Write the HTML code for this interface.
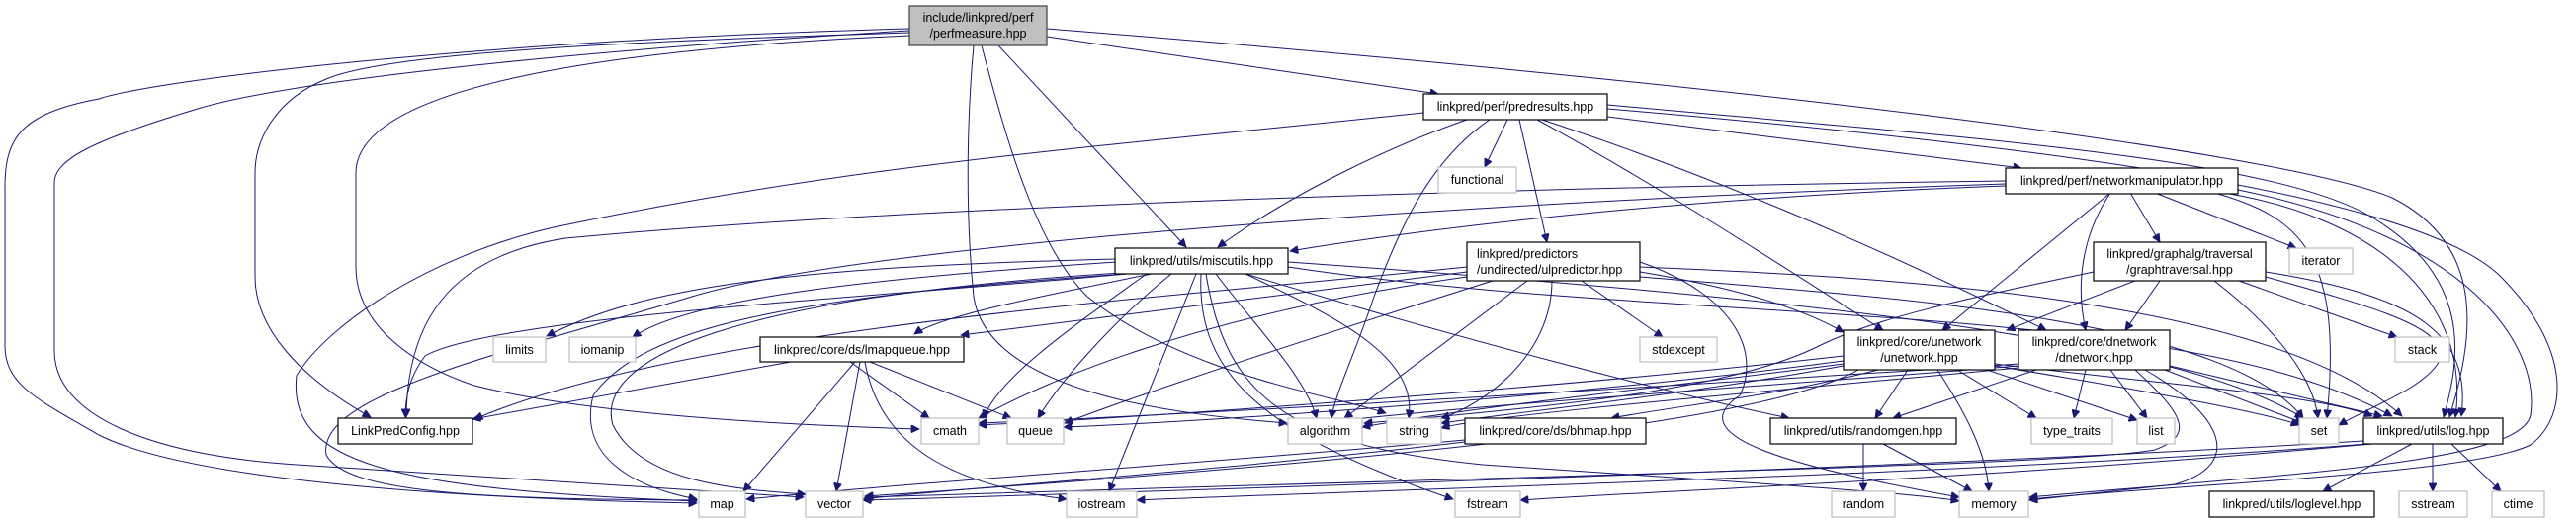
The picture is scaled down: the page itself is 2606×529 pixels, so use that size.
<!DOCTYPE html>
<html><head><meta charset="utf-8"><style>
html,body{margin:0;padding:0;background:#fff;}
svg{display:block;}
text{font-family:"Liberation Sans",sans-serif;font-size:12.5px;fill:#000;}
.e{fill:none;stroke:#191970;stroke-width:1;}
.p{fill:#fff;stroke:#000;stroke-width:1.2;}
.s{fill:#fff;stroke:#bfbfbf;stroke-width:1.2;}
</style></head><body>
<svg width="2606" height="529" viewBox="0 0 2606 529" xmlns="http://www.w3.org/2000/svg">
<defs><marker id="a" viewBox="0 0 10 10" refX="10" refY="5" markerWidth="10" markerHeight="8" markerUnits="userSpaceOnUse" orient="auto"><path d="M0,0 L10,5 L0,10 z" fill="#191970" stroke="#191970"/></marker></defs>
<g marker-end="url(#a)">
<!-- main -->
<path class="e" d="M920,29 C500,40 160,80 100,100 C20,115 5,140 5,190 L5,350 C5,390 40,405 100,440 C200,490 500,505 705,509"/>
<path class="e" d="M920,31 C600,50 300,80 200,110 C100,140 55,160 55,185 L55,355 C55,420 150,460 300,470 L813,503"/>
<path class="e" d="M920,33 C700,40 400,50 330,80 C280,100 258,140 258,175 L258,280 C258,330 300,380 375,422"/>
<path class="e" d="M920,36 C600,50 360,90 360,175 L360,270 C360,330 420,370 480,390 C600,420 800,430 930,434"/>
<path class="e" d="M985,46 C980,100 975,200 985,300 C1000,400 1200,420 1302,428"/>
<path class="e" d="M993,46 C1020,150 1050,250 1100,300 C1200,380 1350,400 1402,418"/>
<path class="e" d="M1010,46 L1200,250"/>
<path class="e" d="M1059,37 L1455,95"/>
<path class="e" d="M1059,29 C1700,80 2300,150 2420,200 C2520,250 2500,350 2478,422"/>
<!-- predresults -->
<path class="e" d="M1626,110 C2100,150 2450,200 2530,280 C2600,350 2600,420 2560,450 C2500,480 2200,490 2053,505"/>
<path class="e" d="M1626,118 L2045,170"/>
<path class="e" d="M1626,106 C2000,140 2300,160 2400,220 C2500,280 2490,360 2472,422"/>
<path class="e" d="M1484,121 C1400,150 1300,200 1232,250"/>
<path class="e" d="M1525,121 L1502,169"/>
<path class="e" d="M1507,121 C1450,160 1420,220 1390,300 C1370,360 1350,400 1347,423"/>
<path class="e" d="M1537,121 L1565,245"/>
<path class="e" d="M1555,121 C1700,200 1850,300 1905,334"/>
<path class="e" d="M1560,121 C1800,200 2000,300 2070,334"/>
<path class="e" d="M1440,114 C1100,150 870,165 560,230 C430,260 330,330 300,380 C290,470 400,495 705,507"/>
<!-- networkmanipulator -->
<path class="e" d="M2029,188 C1700,200 1450,230 1305,254"/>
<path class="e" d="M2029,183 C1500,190 900,210 572,241 C450,260 412,330 411,422"/>
<path class="e" d="M2029,186 C1600,200 900,240 700,300 C500,360 320,400 330,460 C350,500 500,505 705,506"/>
<path class="e" d="M2135,195 L1965,334"/>
<path class="e" d="M2135,195 C2105,240 2100,290 2110,334"/>
<path class="e" d="M2155,195 L2185,245"/>
<path class="e" d="M2180,195 L2323,251"/>
<path class="e" d="M2240,195 C2330,220 2370,260 2354,423"/>
<path class="e" d="M2250,195 C2400,220 2500,300 2484,422"/>
<path class="e" d="M2264,192 C2500,240 2570,350 2560,420 C2550,470 2300,480 2053,503"/>
<!-- miscutils -->
<path class="e" d="M1130,262 C800,270 650,290 553,340"/>
<path class="e" d="M1130,265 C900,280 700,300 640,341"/>
<path class="e" d="M1165,277 C1050,300 950,320 925,338"/>
<path class="e" d="M1140,277 C900,300 500,320 430,360 C415,380 410,400 410,422"/>
<path class="e" d="M1160,277 C1100,320 1010,380 995,423"/>
<path class="e" d="M1185,277 C1120,330 1070,390 1050,423"/>
<path class="e" d="M1230,277 C1270,330 1320,380 1332,423"/>
<path class="e" d="M1260,277 C1350,320 1435,360 1425,423"/>
<path class="e" d="M1210,277 L1122,497"/>
<path class="e" d="M1215,277 C1210,380 1280,440 1470,505"/>
<path class="e" d="M1220,277 C1240,400 1300,450 1500,470 C1800,490 1950,500 1982,507"/>
<path class="e" d="M1140,277 C800,300 650,330 600,400 C580,480 680,500 705,505"/>
<path class="e" d="M1135,276 C750,300 600,360 620,430 C650,490 750,495 815,500"/>
<path class="e" d="M1303,265 C1800,300 2200,340 2330,423"/>
<path class="e" d="M1303,270 C1700,330 2200,300 2420,421"/>
<path class="e" d="M1260,277 C1500,350 1700,400 1810,423"/>
<!-- ulpredictor -->
<path class="e" d="M1484,275 L972,339"/>
<path class="e" d="M1484,270 C1200,300 700,330 480,424"/>
<path class="e" d="M1600,284 L1682,341"/>
<path class="e" d="M1545,284 L1360,423"/>
<path class="e" d="M1570,284 C1570,360 1500,410 1458,423"/>
<path class="e" d="M1510,284 C1300,350 1150,400 1077,428"/>
<path class="e" d="M1659,275 C1750,290 1820,310 1865,336"/>
<path class="e" d="M1659,265 C1760,300 1780,360 1760,400 C1700,440 1800,470 1982,503"/>
<path class="e" d="M1659,280 C1900,300 2250,320 2330,423"/>
<path class="e" d="M1659,270 C1900,280 2300,300 2430,421"/>
<path class="e" d="M1484,280 C1200,320 1050,390 990,423"/>
<!-- graphtraversal -->
<path class="e" d="M2160,284 L2030,334"/>
<path class="e" d="M2185,284 L2150,334"/>
<path class="e" d="M2118,275 C2000,300 1900,320 1840,350 C1760,390 1600,410 1380,428"/>
<path class="e" d="M2240,284 C2300,330 2340,380 2345,423"/>
<path class="e" d="M2265,284 L2425,341"/>
<path class="e" d="M2292,280 C2400,310 2470,330 2470,360 C2460,390 2400,410 2366,430"/>
<path class="e" d="M2292,275 C2450,300 2500,340 2490,421"/>
<!-- unetwork -->
<path class="e" d="M1865,360 C1600,390 1200,420 990,430"/>
<path class="e" d="M1865,365 C1600,400 1250,425 1076,432"/>
<path class="e" d="M1865,368 C1700,390 1500,410 1378,432"/>
<path class="e" d="M1865,370 C1700,400 1550,415 1458,428"/>
<path class="e" d="M1900,374 C1800,400 1700,410 1630,423"/>
<path class="e" d="M1930,374 L1897,423"/>
<path class="e" d="M1960,374 C1990,420 2010,460 2012,497"/>
<path class="e" d="M1980,374 L2060,423"/>
<path class="e" d="M2010,374 L2162,425"/>
<path class="e" d="M2018,370 C2200,400 2300,420 2326,430"/>
<path class="e" d="M2018,368 C2200,390 2350,400 2400,421"/>
<path class="e" d="M1880,374 C1800,420 1500,460 875,502"/>
<!-- dnetwork -->
<path class="e" d="M2042,370 C1800,390 1400,415 1305,433"/>
<path class="e" d="M2042,372 C1800,395 1500,420 1458,433"/>
<path class="e" d="M2042,368 C1700,390 1200,420 990,428"/>
<path class="e" d="M2060,374 L1915,423"/>
<path class="e" d="M2110,374 L2098,423"/>
<path class="e" d="M2135,374 L2172,423"/>
<path class="e" d="M2160,374 C2210,420 2220,440 2180,455 C2100,470 1600,480 875,503"/>
<path class="e" d="M2170,374 C2250,420 2270,470 2200,490 L2053,506"/>
<path class="e" d="M2190,374 L2330,428"/>
<path class="e" d="M2195,370 L2410,421"/>
<!-- lmapqueue -->
<path class="e" d="M800,366 L478,424"/>
<path class="e" d="M860,366 L940,423"/>
<path class="e" d="M880,366 L1023,423"/>
<path class="e" d="M870,366 L846,497"/>
<path class="e" d="M865,366 L752,497"/>
<path class="e" d="M875,366 C890,450 960,490 1079,505"/>
<!-- bhmap -->
<path class="e" d="M1482,445 C1200,470 900,490 755,505"/>
<path class="e" d="M1482,447 C1200,480 950,495 873,505"/>
<!-- randomgen -->
<path class="e" d="M1885,449 L1885,497"/>
<path class="e" d="M1905,449 L1995,497"/>
<!-- log -->
<path class="e" d="M2391,446 C2000,470 1400,490 873,506"/>
<path class="e" d="M2395,449 C2000,480 1400,495 1150,506"/>
<path class="e" d="M2400,449 C2000,485 1700,495 1538,506"/>
<path class="e" d="M2440,449 L2350,497"/>
<path class="e" d="M2461,449 L2461,497"/>
<path class="e" d="M2480,449 L2530,497"/>
</g>
<!-- nodes -->
<rect x="920" y="6" width="139" height="40" fill="#bfbfbf" stroke="#404040" stroke-width="1.2"/>
<text x="989.5" y="22" text-anchor="middle">include/linkpred/perf</text>
<text x="989.5" y="38" text-anchor="middle">/perfmeasure.hpp</text>
<rect class="p" x="1440" y="95" width="186" height="26"/><text x="1533" y="112" text-anchor="middle">linkpred/perf/predresults.hpp</text>
<rect class="s" x="1455" y="169" width="79" height="26"/><text x="1494.5" y="186" text-anchor="middle">functional</text>
<rect class="p" x="2029" y="170" width="235" height="26"/><text x="2146.5" y="187" text-anchor="middle">linkpred/perf/networkmanipulator.hpp</text>
<rect class="p" x="1128" y="251" width="175" height="26"/><text x="1215.5" y="268" text-anchor="middle">linkpred/utils/miscutils.hpp</text>
<rect class="p" x="1484" y="245" width="175" height="39"/><text x="1494" y="261">linkpred/predictors</text><text x="1494" y="277">/undirected/ulpredictor.hpp</text>
<rect class="p" x="2118" y="245" width="174" height="39"/><text x="2205" y="261" text-anchor="middle">linkpred/graphalg/traversal</text><text x="2205" y="277" text-anchor="middle">/graphtraversal.hpp</text>
<rect class="s" x="2316" y="251" width="64" height="26"/><text x="2348" y="268" text-anchor="middle">iterator</text>
<rect class="s" x="499" y="341" width="53" height="25"/><text x="525.5" y="358" text-anchor="middle">limits</text>
<rect class="s" x="576" y="341" width="67" height="25"/><text x="609.5" y="358" text-anchor="middle">iomanip</text>
<rect class="p" x="769" y="341" width="206" height="25"/><text x="872" y="358" text-anchor="middle">linkpred/core/ds/lmapqueue.hpp</text>
<rect class="s" x="1659" y="341" width="78" height="25"/><text x="1698" y="358" text-anchor="middle">stdexcept</text>
<rect class="p" x="1865" y="334" width="153" height="40"/><text x="1941.5" y="350" text-anchor="middle">linkpred/core/unetwork</text><text x="1941.5" y="366" text-anchor="middle">/unetwork.hpp</text>
<rect class="p" x="2042" y="334" width="153" height="40"/><text x="2118.5" y="350" text-anchor="middle">linkpred/core/dnetwork</text><text x="2118.5" y="366" text-anchor="middle">/dnetwork.hpp</text>
<rect class="s" x="2423" y="341" width="55" height="25"/><text x="2450.5" y="358" text-anchor="middle">stack</text>
<rect class="p" x="342" y="423" width="136" height="26"/><text x="410" y="440" text-anchor="middle">LinkPredConfig.hpp</text>
<rect class="s" x="932" y="423" width="58" height="26"/><text x="961" y="440" text-anchor="middle">cmath</text>
<rect class="s" x="1019" y="423" width="57" height="26"/><text x="1047.5" y="440" text-anchor="middle">queue</text>
<rect class="s" x="1303" y="423" width="75" height="26"/><text x="1340.5" y="440" text-anchor="middle">algorithm</text>
<rect class="s" x="1403" y="423" width="55" height="26"/><text x="1430.5" y="440" text-anchor="middle">string</text>
<rect class="p" x="1482" y="423" width="183" height="26"/><text x="1573.5" y="440" text-anchor="middle">linkpred/core/ds/bhmap.hpp</text>
<rect class="p" x="1791" y="423" width="188" height="26"/><text x="1885" y="440" text-anchor="middle">linkpred/utils/randomgen.hpp</text>
<rect class="s" x="2055" y="423" width="82" height="26"/><text x="2096" y="440" text-anchor="middle">type_traits</text>
<rect class="s" x="2162" y="423" width="38" height="26"/><text x="2181" y="440" text-anchor="middle">list</text>
<rect class="s" x="2326" y="423" width="40" height="26"/><text x="2346" y="440" text-anchor="middle">set</text>
<rect class="p" x="2391" y="423" width="141" height="26"/><text x="2461.5" y="440" text-anchor="middle">linkpred/utils/log.hpp</text>
<rect class="s" x="707" y="497" width="47" height="26"/><text x="730.5" y="514" text-anchor="middle">map</text>
<rect class="s" x="815" y="497" width="58" height="26"/><text x="844" y="514" text-anchor="middle">vector</text>
<rect class="s" x="1079" y="497" width="71" height="26"/><text x="1114.5" y="514" text-anchor="middle">iostream</text>
<rect class="s" x="1472" y="497" width="66" height="26"/><text x="1505" y="514" text-anchor="middle">fstream</text>
<rect class="s" x="1853" y="497" width="64" height="26"/><text x="1885" y="514" text-anchor="middle">random</text>
<rect class="s" x="1982" y="497" width="70" height="26"/><text x="2017" y="514" text-anchor="middle">memory</text>
<rect class="p" x="2235" y="497" width="167" height="26"/><text x="2318.5" y="514" text-anchor="middle">linkpred/utils/loglevel.hpp</text>
<rect class="s" x="2427" y="497" width="69" height="26"/><text x="2461.5" y="514" text-anchor="middle">sstream</text>
<rect class="s" x="2521" y="497" width="53" height="26"/><text x="2547.5" y="514" text-anchor="middle">ctime</text>
</svg>
</body></html>
